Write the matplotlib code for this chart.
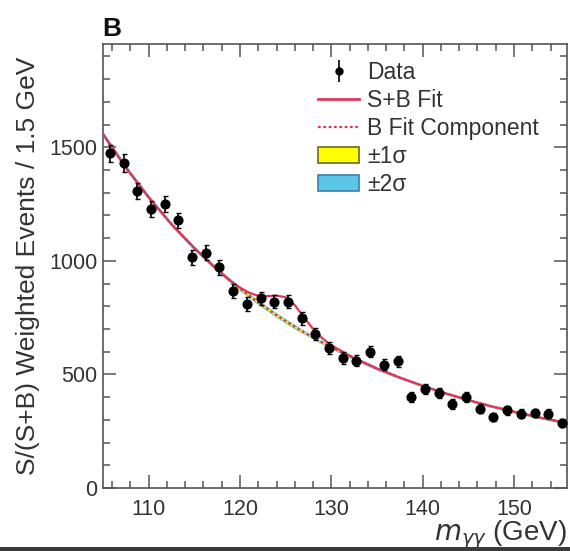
import matplotlib
matplotlib.use("Agg")
import matplotlib.pyplot as plt
from matplotlib.patches import Rectangle, Patch
from matplotlib.lines import Line2D
from matplotlib.ticker import MultipleLocator

plt.rcParams['font.family'] = ['Liberation Sans', 'DejaVu Sans']

# Diphoton mass bin centres (GeV), 1.5 GeV bins
mass_bins = [105.75, 107.25, 108.75, 110.25, 111.75, 113.25, 114.75, 116.25,
             117.75, 119.25, 120.75, 122.25, 123.75, 125.25, 126.75, 128.25,
             129.75, 131.25, 132.75, 134.25, 135.75, 137.25, 138.75, 140.25,
             141.75, 143.25, 144.75, 146.25, 147.75, 149.25, 150.75, 152.25,
             153.75, 155.25]

# S/(S+B) weighted event counts and their uncertainties
data_counts = [1474, 1431, 1307, 1229, 1249, 1178, 1015, 1036, 971, 868,
               810, 835, 820, 820, 747, 678, 617, 572, 561, 601, 542, 558,
               400, 434, 420, 371, 400, 349, 313, 342, 328, 330, 328, 286]
data_errors = [38, 38, 36, 35, 35, 34, 32, 32, 31, 30, 29, 29, 29, 29, 28,
               27, 26, 25, 25, 25, 24, 24, 22, 22, 22, 21, 21, 20, 19, 19,
               19, 19, 19, 18]

# Fit curves evaluated on a mass grid (GeV)
fit_mass = [105, 107.5, 110, 112.5, 115, 117.5, 119, 120, 121, 122, 123, 124,
            125, 126, 127, 128, 129, 130, 132.5, 135, 137.5, 140, 142.5, 145,
            147.5, 150, 152.5, 155, 156]
bkg_fit = [1558, 1411, 1280, 1161, 1056, 962, 910, 878, 847, 817, 789, 761,
           735, 710, 686, 663, 641, 620, 571, 526, 486, 450, 417, 387, 360,
           336, 313, 293, 286]
sb_fit = [1558, 1411, 1280, 1161, 1056, 962, 911, 882, 860, 846, 845, 847,
          840, 805, 752, 700, 660, 628, 572, 526, 486, 450, 417, 387, 360,
          336, 313, 293, 286]
# one standard deviation of the background fit
bkg_sigma = [6, 6, 5, 5, 5, 5, 5, 5, 5, 5, 5, 5, 5, 5, 4, 4, 4, 4, 4, 4,
             3, 3, 3, 3, 3, 3, 3, 3, 3]

x_ticks = [110, 120, 130, 140, 150]
y_ticks = [0, 500, 1000, 1500]

fit_color = '#e0365a'
text_color = '#333333'
frame_color = '#555555'

fig = plt.figure(figsize=(5.70, 5.51), dpi=100)
W, H = 570, 551
ax = fig.add_axes([103 / W, (H - 488) / H, (567 - 103) / W, (488 - 44) / H])

lo2 = [b - 2 * s for b, s in zip(bkg_fit, bkg_sigma)]
hi2 = [b + 2 * s for b, s in zip(bkg_fit, bkg_sigma)]
lo1 = [b - s for b, s in zip(bkg_fit, bkg_sigma)]
hi1 = [b + s for b, s in zip(bkg_fit, bkg_sigma)]
ax.fill_between(fit_mass, lo2, hi2, color='#5cc6e6', lw=0, zorder=1)
ax.fill_between(fit_mass, lo1, hi1, color='#ffff00', lw=0, zorder=2)

ax.plot(fit_mass, bkg_fit, color=fit_color, lw=1.6, ls=(0, (1.2, 1.2)), zorder=3)
ax.plot(fit_mass, sb_fit, color=fit_color, lw=1.6, zorder=4)

ax.errorbar(mass_bins, data_counts, yerr=data_errors, fmt='o', color='black',
            ms=6.3, elinewidth=1.2, capsize=1.8, capthick=1.0, zorder=5)

ax.set_xlim(105, 155.8)
ax.set_ylim(0, 1955)
ax.set_xticks(x_ticks)
ax.set_yticks(y_ticks)
ax.xaxis.set_minor_locator(MultipleLocator(2))
ax.yaxis.set_minor_locator(MultipleLocator(100))
ax.tick_params(which='both', direction='in', top=True, right=True,
               color=frame_color, width=1.1, labelcolor=text_color,
               labelsize=15.5)
ax.tick_params(which='major', length=9.5)
ax.tick_params(which='minor', length=5)
ax.tick_params(axis='x', which='major', pad=8)
ax.tick_params(axis='y', which='major', pad=4)
for sp in ax.spines.values():
    sp.set_color(frame_color)
    sp.set_linewidth(1.2)

ax.set_ylabel('S/(S+B) Weighted Events / 1.5 GeV', fontsize=19,
              color=text_color)
ax.yaxis.set_label_coords((40 - 103) / 464, 0.5)

fig.text(567 / W, (H - 540) / H, r'$m_{\gamma\gamma}$ (GeV)', ha='right',
         va='baseline', fontsize=20, color=text_color)
fig.text(102 / W, (H - 36) / H, 'B', ha='left', va='baseline', fontsize=19,
         fontweight='bold', color='#111111')

# data entry drawn with its error bar
data_handle = ax.errorbar([], [], yerr=[], fmt='o', color='black', ms=5,
                          elinewidth=1.2, capsize=1.8)
handles = [
    data_handle,
    Line2D([], [], color=fit_color, lw=2),
    Line2D([], [], color=fit_color, lw=1.6, ls=(0, (1.2, 1.2))),
    Patch(facecolor='#ffff00', edgecolor='#6b6b20', lw=1.2),
    Patch(facecolor='#5cc6e6', edgecolor='#3a7fb0', lw=1.2),
]
labels = ['Data', 'S+B Fit', 'B Fit Component', '\u00b11\u03c3', '\u00b12\u03c3']
leg = ax.legend(handles, labels, loc='upper left',
                bbox_to_anchor=((318 - 103) / 464, (488 - 61) / 444),
                frameon=False, fontsize=16.5, borderpad=0, borderaxespad=0,
                handlelength=1.8, handletextpad=0.35, labelspacing=0.22,
                handleheight=0.7)
for t in leg.get_texts():
    t.set_color(text_color)

fig.patches.append(Rectangle((0, 0), 1, 4 / H, transform=fig.transFigure,
                             facecolor='#3a3a3a', edgecolor='none', zorder=10))

fig.savefig('out.png', dpi=100)
